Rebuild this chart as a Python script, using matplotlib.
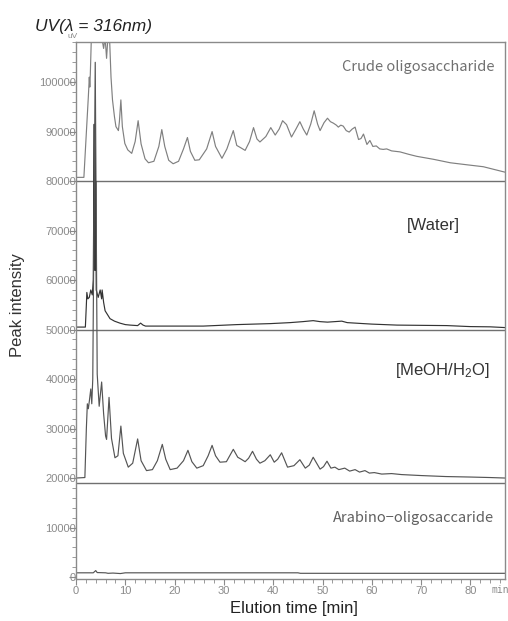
import matplotlib
matplotlib.use("Agg")
import matplotlib.pyplot as plt
from matplotlib.ticker import MultipleLocator

plt.rcParams['font.family'] = ['Liberation Sans', 'DejaVu Sans']
plt.rcParams['mathtext.fontset'] = 'custom'
plt.rcParams['mathtext.rm'] = 'Liberation Sans'
plt.rcParams['mathtext.default'] = 'rm'

# crude oligosaccharide trace (values above the top are off scale)
crude_t = [0, 1.6, 2.0, 2.5, 2.7, 2.8, 2.9, 3.2, 5.3, 5.4, 5.6, 5.9, 6.2, 6.5, 6.8,
           7.1, 7.4, 7.8, 8.1, 8.6, 8.8, 9.1, 9.4, 9.9, 10.5, 11.3, 12.0, 12.6, 13.2,
           14.0, 14.7, 15.8, 16.8, 17.4, 18.0, 18.8, 19.7, 20.8, 21.8, 22.6, 23.2,
           24.1, 25.0, 26.5, 27.6, 28.3, 29.6, 30.6, 31.9, 32.6, 33.3, 34.3, 35.2,
           36.0, 36.7, 37.3, 38.5, 39.5, 40.4, 41.2, 41.9, 42.7, 43.7, 44.6, 45.4,
           46.1, 46.8, 47.6, 48.3, 49.0, 49.5, 50.3, 51.0, 51.6, 52.2, 52.8, 53.2,
           53.7, 54.2, 54.8, 55.4, 56.0, 56.6, 57.3, 57.8, 58.3, 59.0, 59.6, 60.2,
           60.9, 61.6, 62.3, 63.0, 64.0, 65.7, 67.5, 69.1, 72.5, 75.9, 79.2, 82.6,
           85.0, 87.0]
crude_v = [80750, 80750, 88000, 97000, 101000, 99000, 101500, 112000, 112000, 108000,
           106800, 109000, 104800, 109500, 109000, 101000, 96400, 93000, 91000, 90200,
           92000, 96400, 91000, 87600, 86300, 85600, 88000, 92200, 87500, 84500, 83700,
           84000, 87000, 90400, 87000, 84200, 83500, 84000, 86500, 88800, 86000, 84200,
           84300, 86500, 90000, 87000, 84600, 86500, 90200, 87200, 86800, 86200, 88000,
           90800, 88500, 87900, 89000, 90800, 89300, 90500, 92200, 91400, 88900, 90500,
           92000, 90500, 89300, 91500, 94200, 91500, 90200, 91800, 92700, 92000, 91700,
           91300, 90900, 91300, 91100, 90200, 89900, 90500, 90900, 88400, 88600, 89500,
           87400, 88200, 87000, 87100, 86500, 86400, 86500, 86100, 85900, 85400, 85000,
           84400, 83700, 83300, 82900, 82300, 81800]

# water fraction
water_t = [0, 1.9, 2.1, 2.2, 2.4, 2.7, 3.0, 3.3, 3.5, 3.6, 3.7, 3.75, 3.8, 3.85, 3.9,
           3.95, 4.0, 4.1, 4.5, 4.9, 5.2, 5.3, 5.6, 5.9, 6.4, 6.9, 7.8, 8.9, 10.0, 11.0,
           12.5, 13.1, 13.6, 14.1, 19.0, 25.8, 32.6, 39.4, 43.4, 46.0, 48.1, 49.5, 51.0,
           53.9, 55.0, 58.3, 60.0, 65.1, 70.0, 75.2, 79.9, 84.0, 87.0]
water_v = [50500, 50500, 55000, 57500, 56200, 56500, 58000, 57000, 60000, 75000,
           91500, 62000, 90000, 63000, 88000, 62000, 80000, 58000, 56500, 58000, 56200,
           58000, 55500, 53800, 53000, 52200, 51700, 51300, 51000, 50900, 50800, 51300,
           50900, 50700, 50700, 50700, 51000, 51200, 51400, 51600, 51800, 51600, 51500,
           51700, 51400, 51200, 51100, 50900, 50850, 50800, 50600, 50550, 50400]

# MeOH/H2O fraction
meoh_t = [0, 1.8, 2.1, 2.3, 2.5, 2.7, 3.0, 3.2, 3.4, 3.9, 4.3, 4.7, 5.2, 5.6, 6.0, 6.2,
          6.7, 7.2, 7.9, 8.5, 9.1, 9.6, 10.6, 11.5, 12.5, 13.2, 14.3, 15.5, 16.5, 17.5,
          18.2, 19.1, 20.5, 21.8, 22.7, 23.5, 24.5, 25.8, 26.8, 27.6, 28.3, 29.2, 30.5,
          31.9, 32.8, 33.5, 34.3, 35.0, 35.8, 36.6, 37.3, 38.3, 39.4, 40.2, 40.9, 41.7,
          42.9, 44.2, 45.4, 46.5, 47.3, 48.1, 49.5, 50.2, 50.9, 51.7, 52.5, 53.3, 54.5,
          55.5, 56.6, 57.5, 58.6, 59.5, 60.5, 62.0, 64.0, 66.0, 70.0, 75.0, 80.0, 84.0,
          87.0]
meoh_v = [20000, 20100, 30000, 35000, 34000, 35500, 38000, 35000, 40000, 104000, 41000,
          34500, 39400, 33000, 28500, 27800, 36300, 28000, 24100, 24500, 30500, 25000,
          22200, 23000, 27900, 23500, 21500, 21700, 23500, 26800, 23800, 21700, 22000,
          23500, 25600, 23300, 22000, 22500, 24500, 26600, 24500, 23200, 23300, 25800,
          24200, 23800, 23300, 24000, 25400, 23800, 23000, 23500, 24700, 23200, 23800,
          25100, 22200, 22500, 23700, 22000, 22600, 24200, 21800, 22300, 23400, 22000,
          22200, 21700, 22000, 21400, 21700, 21200, 21500, 21000, 21100, 20800, 20900,
          20700, 20500, 20300, 20200, 20100, 20000]

# arabino-oligosaccharide standard
arab_t = [0, 3.5, 4.0, 4.3, 6.0, 6.5, 7.5, 9.0, 10.0, 45.0, 45.5, 87.0]
arab_v = [850, 850, 1300, 900, 850, 750, 800, 700, 850, 850, 750, 750]

separators = [80000, 50000, 19000]

fig = plt.figure(figsize=(5.08, 6.21), dpi=100)
ax = fig.add_axes([76 / 508, 1 - 579 / 621, 429 / 508, 537 / 621])

for s in separators:
    ax.axhline(s, color='#707070', lw=1.0)

ax.plot(crude_t, crude_v, color='#808080', lw=0.85)
ax.plot(water_t, water_v, color='#333333', lw=0.85)
ax.plot(meoh_t, meoh_v, color='#555555', lw=0.85)
ax.plot(arab_t, arab_v, color='#555555', lw=0.85)

ax.set_xlim(0, 87)
ax.set_ylim(-400, 108100)
ax.xaxis.set_major_locator(MultipleLocator(10))
ax.xaxis.set_minor_locator(MultipleLocator(2))
ax.yaxis.set_major_locator(MultipleLocator(10000))
ax.yaxis.set_minor_locator(MultipleLocator(2000))
ax.set_xticks(range(0, 90, 10))
ax.set_yticks(range(0, 110000, 10000))

for sp in ax.spines.values():
    sp.set_color('#8a8a8a')
    sp.set_linewidth(1.0)
ax.tick_params(which='both', direction='out', color='#8a8a8a', labelcolor='#8a8a8a',
               labelsize=8)
ax.tick_params(axis='y', which='major', length=5, pad=-5)
ax.tick_params(axis='y', which='minor', length=3)
ax.tick_params(axis='x', which='major', length=4, pad=1)
ax.tick_params(axis='x', which='minor', length=3)

ax.text(0.975, 0.953, 'Crude oligosaccharide', transform=ax.transAxes, ha='right',
        va='center', fontsize=10.5, color='#707070', family=['Noto Sans CJK JP', 'DejaVu Sans'])
ax.text(0.895, 0.659, '[Water]', transform=ax.transAxes, ha='right', va='center',
        fontsize=12, color='#333333')
ax.text(0.965, 0.389, '[MeOH/H$_2$O]', transform=ax.transAxes, ha='right', va='center',
        fontsize=12, color='#333333')
ax.text(0.975, 0.114, 'Arabino\u2212oligosaccaride', transform=ax.transAxes, ha='right',
        va='center', fontsize=10.5, color='#606060', family=['Noto Sans CJK JP', 'DejaVu Sans'])

fig.text(35 / 508, 1 - 31 / 621, 'UV(\u03bb = 316nm)', fontsize=12.5, style='italic',
         color='#222222', va='baseline')
fig.text(73 / 508, 1 - 36 / 621, 'uV', fontsize=6, color='#8a8a8a', ha='center', va='center')
fig.text(500 / 508, 1 - 590 / 621, 'min', fontsize=7, color='#8a8a8a', ha='center',
         va='center', family='DejaVu Sans Mono')
fig.text(18 / 508, 1 - 305 / 621, 'Peak intensity', rotation=90, fontsize=12,
         color='#333333', ha='center', va='center')
fig.text(294 / 508, 1 - 609 / 621, 'Elution time [min]', fontsize=12, color='#222222',
         ha='center', va='center')

fig.savefig('out.png', dpi=100)
